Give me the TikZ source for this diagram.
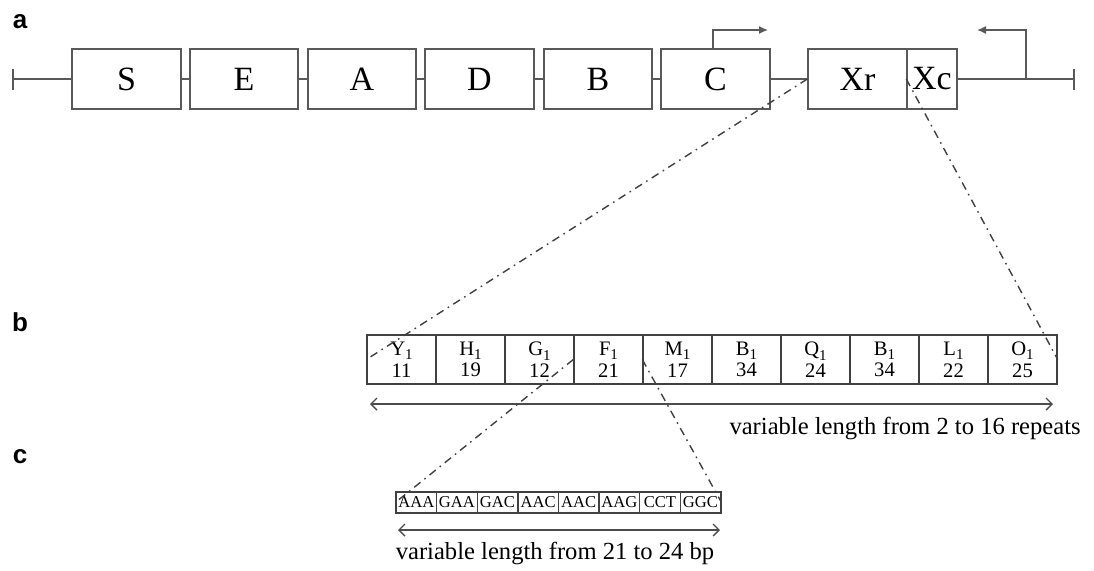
\documentclass[tikz,border=0pt]{standalone}
\usepackage{fontspec}
\setmainfont{Liberation Serif}
\newfontfamily\panelfont{Liberation Sans}
\usetikzlibrary{arrows.meta}
\newcommand{\one}{\raisebox{-0.22em}{\fontsize{7.5}{7.5}\selectfont 1}}
\tikzset{
  gene/.style={draw=black!65, fill=white, minimum height=30pt, inner sep=0pt, font=\fontsize{17}{18}\selectfont},
  rep/.style={draw=black!75, minimum width=34.5pt, minimum height=24.5pt, inner sep=0pt, align=center, font=\fontsize{10.3}{10.8}\selectfont},
  codon/.style={draw=black!75, minimum width=20.3pt, minimum height=10.5pt, inner sep=0pt, font=\fontsize{8.3}{8}\selectfont},
  zoomline/.style={black!75, dash pattern=on 4pt off 2.5pt on 0.8pt off 2.5pt},
  panel/.style={font=\panelfont\bfseries\fontsize{13}{13}\selectfont},
  span/.style={black!70, {Straight Barb[length=3pt,width=6pt]}-{Straight Barb[length=3pt,width=6pt]}},
  spantext/.style={font=\fontsize{12.3}{14}\selectfont},
}
\begin{document}
\begin{tikzpicture}[x=0.5pt,y=-0.5pt,line width=0.7pt]
\useasboundingbox (0,0) rectangle (1094,570);
\node[panel] (la) at (20,22) {a};
\node[panel] (lb) at (20,322) {b};
\node[panel] (lc) at (20,457) {c};
\node[gene, minimum width=54.5pt] (S) at (126.5,79) {S};
\node[gene, minimum width=54pt] (E) at (244,79) {E};
\node[gene, minimum width=54pt] (A) at (362,79) {A};
\node[gene, minimum width=54.5pt] (D) at (479.5,79) {D};
\node[gene, minimum width=54pt] (B) at (598,79) {B};
\node[gene, minimum width=54.5pt] (C) at (715.5,79) {C};
\node[gene, minimum width=49.5pt] (Xr) at (857.5,79) {Xr};
\node[gene, minimum width=25pt] (Xc) at (932,79) {Xc};
\coordinate (left) at (13,79);
\coordinate (right) at (1074,79);
\coordinate (prom) at (1026,79);
\coordinate (tipC) at (768,30);
\coordinate (tipX) at (977,30);
\draw[black!65] (left) -- (S.west);
\foreach \a/\b in {S/E,E/A,A/D,D/B,B/C,C/Xr}
  \draw[black!65] (\a.east) -- (\b.west);
\draw[black!65] (Xc.east) -- (right);
\draw[black!65] ([yshift=5.25pt]left) -- ([yshift=-5.25pt]left);
\draw[black!65] ([yshift=5.25pt]right) -- ([yshift=-5.25pt]right);
\draw[black!65,-{Latex[length=4.5pt,width=4pt]}] ([xshift=-1.25pt]C.north) |- (tipC);
\draw[black!65,-{Latex[length=4.5pt,width=4pt]}] (prom) |- (tipX);
\foreach \lab/\num [count=\i from 0] in {Y/11,H/19,G/12,F/21,M/17,B/34,Q/24,B/34,L/22,O/25}
  \node[rep] (r\i) at ({401.5+69*\i},359.5) {\lab\one\\\num};
\coordinate (bl) at (370,404);
\coordinate (br) at (1053,404);
\draw[span] (bl) -- (br);
\node[spantext, anchor=east] (blabel) at (1088,428) {variable length from 2 to 16 repeats};
\foreach \cod [count=\j from 0] in {AAA,GAA,GAC,AAC,AAC,AAG,CCT,GGC}
  \node[codon] (c\j) at ({416.3+40.6*\j},502.5) {\cod};
\coordinate (cl) at (398,530);
\coordinate (cr) at (720,530);
\draw[span] (cl) -- (cr);
\node[spantext] (clabel) at (555,553) {variable length from 21 to 24 bp};
\draw[zoomline] (Xr.west) -- (r0.west);
\draw[zoomline] (Xc.west) -- (r9.east);
\draw[zoomline] (r3.west) -- (c0.west);
\draw[zoomline] (r4.west) -- (c7.east);
\end{tikzpicture}
\end{document}
